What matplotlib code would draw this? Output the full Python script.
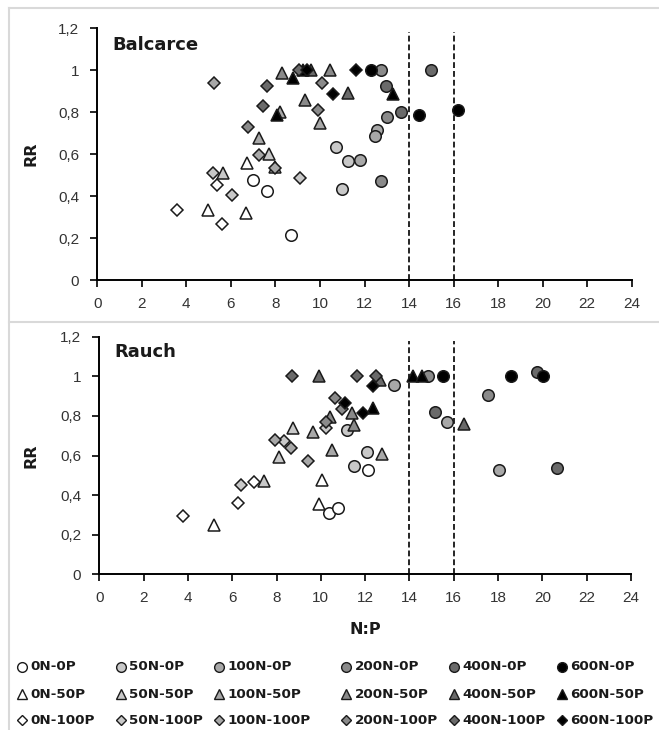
import matplotlib
matplotlib.use("Agg")
import matplotlib.pyplot as plt
from matplotlib.lines import Line2D

plt.rcParams["font.family"] = ["Liberation Sans", "DejaVu Sans"]

# treatment levels
n_levels = ["0N", "50N", "100N", "200N", "400N", "600N"]
p_levels = ["0P", "50P", "100P"]
n_fills = ["#ffffff", "#c8c8c8", "#a8a8a8", "#8a8a8a", "#6a6a6a", "#000000"]
p_markers = ["o", "^", "D"]

# Balcarce: treatment of each point, N:P ratio, relative yield
bal_group = (["0N-0P"] * 3 + ["50N-0P"] * 3 + ["100N-0P"] * 3 + ["200N-0P"] * 3
             + ["400N-0P"] * 3 + ["600N-0P"] * 3
             + ["0N-50P"] * 3 + ["50N-50P"] * 3 + ["100N-50P"] * 3 + ["200N-50P"] * 3
             + ["400N-50P"] * 2 + ["600N-50P"] * 4
             + ["0N-100P"] * 3 + ["50N-100P"] * 3 + ["100N-100P"] * 3 + ["200N-100P"] * 3
             + ["400N-100P"] * 3 + ["600N-100P"] * 3)
bal_np = [7.0, 7.6, 8.72, 10.7, 11.24, 10.97, 11.82, 12.58, 12.49,
          12.76, 13.03, 12.76, 12.96, 13.63, 14.97, 12.27, 14.47, 16.22,
          6.74, 4.99, 6.7, 5.66, 7.73, 7.96, 7.24, 9.98, 8.22,
          8.31, 9.35, 10.43, 11.24, 9.6, 8.81, 8.09, 13.3, 9.26,
          3.6, 5.62, 5.39, 5.21, 6.07, 9.12, 7.24, 7.96, 5.26,
          6.79, 9.93, 10.07, 7.64, 7.46, 9.08, 10.6, 11.6, 9.4]
bal_rr = [0.478, 0.426, 0.213, 0.634, 0.569, 0.436, 0.573, 0.716, 0.687,
          1.0, 0.775, 0.47, 0.927, 0.80, 1.0, 1.0, 0.785, 0.81,
          0.558, 0.332, 0.32, 0.51, 0.60, 0.54, 0.677, 0.748, 0.80,
          0.986, 0.86, 1.0, 0.89, 1.0, 0.965, 0.787, 0.888, 1.0,
          0.332, 0.265, 0.455, 0.51, 0.403, 0.488, 0.597, 0.535, 0.939,
          0.73, 0.81, 0.94, 0.924, 0.83, 1.0, 0.885, 1.0, 1.0]

# Rauch
rau_group = (["0N-0P"] * 3 + ["50N-0P"] * 3 + ["100N-0P"] * 3 + ["200N-0P"] * 2
             + ["400N-0P"] * 3 + ["600N-0P"] * 3
             + ["0N-50P"] * 3 + ["50N-50P"] * 3 + ["100N-50P"] * 3 + ["200N-50P"] * 3
             + ["400N-50P"] * 3 + ["600N-50P"] * 3
             + ["0N-100P"] * 3 + ["50N-100P"] * 3 + ["100N-100P"] * 3 + ["200N-100P"] * 3
             + ["400N-100P"] * 3 + ["600N-100P"] * 3)
rau_np = [12.12, 10.38, 10.79, 11.17, 11.5, 12.07, 13.3, 15.68, 18.06,
          14.85, 17.56, 15.16, 19.75, 20.65, 15.5, 18.57, 20.05,
          5.18, 10.04, 9.92, 7.44, 8.11, 8.76, 9.66, 10.49, 12.75,
          10.42, 11.39, 11.5, 9.9, 12.67, 16.47, 14.18, 14.55, 12.37,
          3.76, 6.28, 6.98, 6.38, 8.34, 10.24, 7.93, 8.64, 9.41,
          10.94, 10.23, 10.64, 8.69, 11.65, 12.49, 11.09, 11.89, 12.34]
rau_rr = [0.527, 0.308, 0.333, 0.729, 0.547, 0.619, 0.956, 0.768, 0.527,
          1.0, 0.905, 0.821, 1.023, 0.538, 1.0, 1.0, 1.0,
          0.249, 0.476, 0.355, 0.473, 0.59, 0.737, 0.72, 0.628, 0.608,
          0.796, 0.816, 0.754, 1.0, 0.98, 0.759, 1.0, 1.0, 0.838,
          0.295, 0.362, 0.465, 0.451, 0.673, 0.737, 0.68, 0.636, 0.574,
          0.833, 0.771, 0.889, 1.0, 1.0, 1.0, 0.867, 0.813, 0.951]

x_ticks = list(range(0, 25, 2))
y_ticks = [0, 0.2, 0.4, 0.6, 0.8, 1.0, 1.2]
y_labels = ["0", "0,2", "0,4", "0,6", "0,8", "1", "1,2"]
thresholds = [14, 16]

W, H = 659, 730
BOLD = ["DejaVu Sans"]


def px_rect(x0, x1, y0, y1):
    return [x0 / W, 1 - y1 / H, (x1 - x0) / W, (y1 - y0) / H]


def style(k):
    n, p = k.split("-")
    return p_markers[p_levels.index(p)], n_fills[n_levels.index(n)]


def panel(ax, groups, xs, ys, name):
    for k in dict.fromkeys(groups):
        mk, fc = style(k)
        px = [x for g, x in zip(groups, xs) if g == k]
        py = [y for g, y in zip(groups, ys) if g == k]
        ms = 6.3 if mk == "D" else 8.3
        ax.plot(px, py, ls="none", marker=mk, ms=ms, mfc=fc, mec="#1a1a1a",
                mew=1.1, zorder=3)
    for t in thresholds:
        ax.plot([t, t], [0, 1.18], ls=(0, (3.5, 1.8)), color="black", lw=1.2, zorder=2)
    ax.set_xlim(0, 24)
    ax.set_ylim(0, 1.2)
    ax.set_xticks(x_ticks)
    ax.set_yticks(y_ticks)
    ax.set_yticklabels(y_labels)
    for s in ["top", "right"]:
        ax.spines[s].set_visible(False)
    for s in ["left", "bottom"]:
        ax.spines[s].set_linewidth(1.4)
    ax.tick_params(direction="out", length=5, width=1.2, labelsize=11,
                   labelcolor="#333333")
    ax.tick_params(axis="x", pad=7)
    ax.tick_params(axis="y", pad=8)
    ax.text(0.029, 0.934, name, transform=ax.transAxes, fontsize=13,
            fontweight="bold", family=BOLD, va="center", ha="left", color="#1a1a1a")


fig = plt.figure(figsize=(W / 100, H / 100), dpi=100)

ax1 = fig.add_axes(px_rect(97.3, 631.7, 28.3, 280))
ax2 = fig.add_axes(px_rect(99.3, 631, 336.7, 574.3))
panel(ax1, bal_group, bal_np, bal_rr, "Balcarce")
panel(ax2, rau_group, rau_np, rau_rr, "Rauch")

for yc in [154, 456]:
    fig.text(31 / W, 1 - yc / H, "RR", rotation=90, fontsize=11.5, fontweight="bold",
             family=BOLD, ha="center", va="center", color="#1a1a1a")
fig.text(365 / W, 1 - 630 / H, "N:P", fontsize=11.5, fontweight="bold",
         family=BOLD, ha="center", va="center", color="#1a1a1a")

# panel frames
gray = "#d9d9d9"
fig.add_artist(Line2D([9 / W, 1], [1 - 8 / H, 1 - 8 / H], color=gray, lw=1.5))
fig.add_artist(Line2D([9 / W, 1], [1 - 322 / H, 1 - 322 / H], color=gray, lw=1.5))
fig.add_artist(Line2D([9 / W, 9 / W], [1 - 8 / H, 0], color=gray, lw=1.5))

# legend, laid out like the original
col_x = [22, 121, 219, 346, 454, 562]
row_y = [667, 694, 720]
for i, n in enumerate(n_levels):
    for j, p in enumerate(p_levels):
        mk, fc = style(n + "-" + p)
        x, y = col_x[i] / W, 1 - row_y[j] / H
        fig.add_artist(Line2D([x], [y], ls="none", marker=mk,
                              ms=5.3 if mk == "D" else 7, mfc=fc, mec="#1a1a1a",
                              mew=1.0))
        fig.text(x + 8.5 / W, y, n + "-" + p, fontsize=9.7, fontweight="bold",
                 family=BOLD, ha="left", va="center", color="#1a1a1a")

fig.savefig("out.png", dpi=100)
